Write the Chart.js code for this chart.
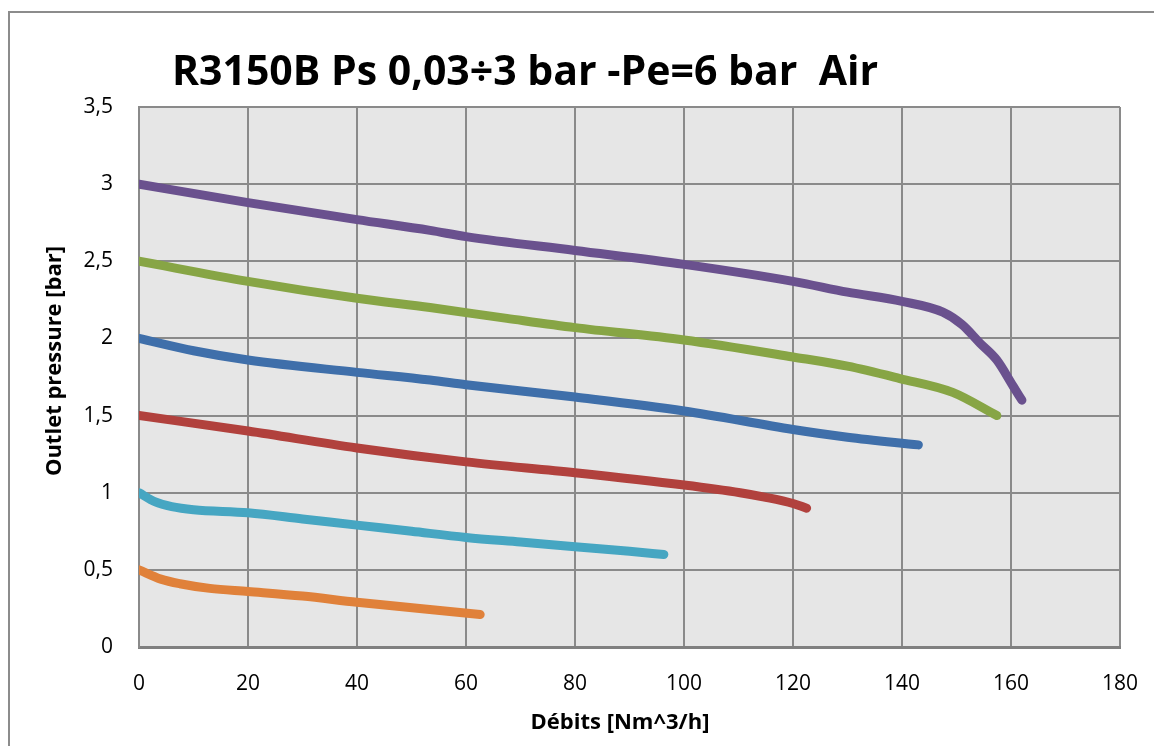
<!DOCTYPE html>
<html>
<head>
<meta charset="utf-8">
<script src="https://cdn.jsdelivr.net/npm/chart.js@4.4.1/dist/chart.umd.min.js"></script>
<style>
    body { margin: 0; background: #fff; overflow: hidden; }
    #frame { position: absolute; left: 8px; top: 11px; width: 1300px; height: 900px; border: 2px solid #8c8c8c; box-sizing: border-box; }
    #wrap { position: absolute; left: 0; top: 0; width: 1154px; height: 746px; }
</style>
</head>
<body>
<div id="frame"></div>
<div id="wrap"><canvas id="chart" width="1154" height="746"></canvas></div>
<script>
const TITLE = 'R3150B Ps 0,03÷3 bar -Pe=6 bar  Air'
const X_TITLE = 'Débits [Nm^3/h]'
const Y_TITLE = 'Outlet pressure [bar]'

// Débit (Nm3/h) et pression de sortie (bar)
const ps3Flow = [0, 20, 40, 53.4, 60, 80, 100, 120, 130, 140, 147.5, 151, 154.3, 157.4, 160.4, 162]
const ps3Pres = [3.0, 2.88, 2.77, 2.70, 2.66, 2.57, 2.48, 2.37, 2.30, 2.24, 2.17, 2.09, 1.97, 1.86, 1.69, 1.60]

const ps25Flow = [0, 20, 40, 53.4, 67.5, 80, 100, 120, 130, 139.6, 149.3, 157.4]
const ps25Pres = [2.50, 2.37, 2.26, 2.20, 2.13, 2.07, 1.99, 1.88, 1.82, 1.74, 1.65, 1.50]

const ps2Flow = [0, 10, 20, 40, 53.4, 60, 80, 100, 120, 130, 143]
const ps2Pres = [2.00, 1.92, 1.86, 1.78, 1.73, 1.70, 1.62, 1.53, 1.41, 1.36, 1.31]

const ps15Flow = [0, 20, 40, 60, 80, 100, 110.3, 115, 120, 122.5]
const ps15Pres = [1.50, 1.40, 1.29, 1.20, 1.13, 1.05, 1.00, 0.97, 0.93, 0.90]

const ps1Flow = [0, 3, 6, 10, 20, 30, 40, 50, 60, 70, 80, 90, 96.3]
const ps1Pres = [1.00, 0.94, 0.91, 0.89, 0.87, 0.83, 0.79, 0.75, 0.71, 0.68, 0.65, 0.62, 0.60]

const ps05Flow = [0, 4, 7.5, 13, 20, 30, 40, 51.5, 62.6]
const ps05Pres = [0.50, 0.44, 0.41, 0.38, 0.36, 0.33, 0.29, 0.25, 0.21]

const xTicks = [0, 20, 40, 60, 80, 100, 120, 140, 160, 180]
const yTicks = [0, 0.5, 1, 1.5, 2, 2.5, 3, 3.5]

function toPoints(xs, ys){
    return xs.map((x, i) => ({x: x, y: ys[i]}))
}

function serie(xs, ys, color){
    return {
        data: toPoints(xs, ys),
        borderColor: color,
        backgroundColor: color,
        borderWidth: 9,
        borderCapStyle: 'round',
        borderJoinStyle: 'round',
        pointRadius: 0,
        cubicInterpolationMode: 'monotone',
        fill: false
    }
}

// fond gris de la zone de tracé + titres
const plotBg = {
    id: 'plotBg',
    beforeDraw(chart){
        const {ctx, chartArea} = chart
        ctx.save()
        ctx.fillStyle = '#e6e6e6'
        ctx.fillRect(chartArea.left, chartArea.top, chartArea.right - chartArea.left, chartArea.bottom - chartArea.top)
        ctx.restore()
    },
    afterDraw(chart){
        const ctx = chart.ctx
        ctx.save()
        ctx.fillStyle = '#000'
        ctx.textAlign = 'center'
        ctx.textBaseline = 'middle'
        ctx.font = 'bold 41px "Open Sans"'
        ctx.fillText(TITLE, 525, 73)
        ctx.font = 'bold 22px "Open Sans"'
        ctx.fillText(X_TITLE, 620, 723)
        ctx.translate(55, 361)
        ctx.rotate(-Math.PI / 2)
        ctx.fillText(Y_TITLE, 0, 0)
        ctx.restore()
    }
}

const ctx = document.getElementById('chart').getContext('2d')
new Chart(ctx, {
    type: 'line',
    data: {
        datasets: [
            serie(ps3Flow, ps3Pres, '#6a518e'),
            serie(ps25Flow, ps25Pres, '#87a545'),
            serie(ps2Flow, ps2Pres, '#3f6faa'),
            serie(ps15Flow, ps15Pres, '#b1413d'),
            serie(ps1Flow, ps1Pres, '#46a6c2'),
            serie(ps05Flow, ps05Pres, '#e0813a')
        ]
    },
    options: {
        responsive: false,
        animation: false,
        layout: { padding: { left: 0, top: 107, right: 34, bottom: 0 } },
        plugins: {
            legend: { display: false },
            tooltip: { enabled: false }
        },
        scales: {
            x: {
                type: 'linear',
                min: 0,
                max: 180,
                afterBuildTicks: s => { s.ticks = xTicks.map(v => ({value: v})) },
                afterFit: s => { s.height = 99; s.paddingLeft = 0; s.paddingRight = 0 },
                grid: { color: '#8a8a8a', lineWidth: 2, drawTicks: false },
                border: { color: '#808080', width: 3 },
                ticks: { color: '#000', padding: 24, font: { family: 'Open Sans', size: 21 } }
            },
            y: {
                min: 0,
                max: 3.5,
                afterBuildTicks: s => { s.ticks = yTicks.map(v => ({value: v})) },
                afterFit: s => { s.width = 139; s.paddingTop = 0; s.paddingBottom = 0 },
                grid: { color: '#8a8a8a', lineWidth: 2, drawTicks: false },
                border: { color: '#8a8a8a', width: 2 },
                ticks: { color: '#000', padding: 26, font: { family: 'Open Sans', size: 21 },
                    callback: v => String(v).replace('.', ',') }
            }
        }
    },
    plugins: [plotBg]
})
</script>
</body>
</html>
